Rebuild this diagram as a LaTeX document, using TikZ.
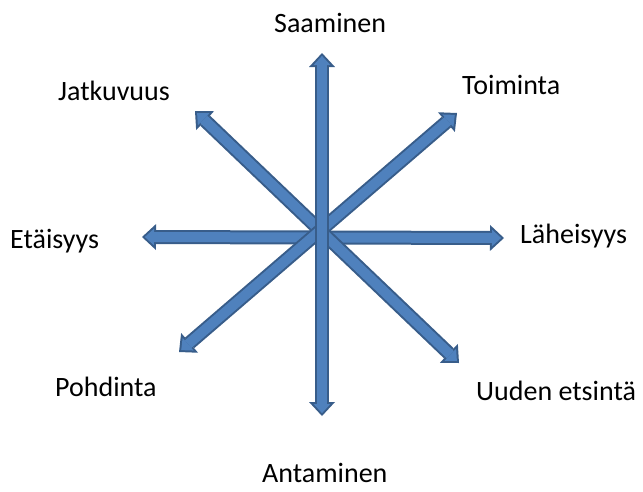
\documentclass[tikz,border=0pt]{standalone}
\usepackage{fontspec}
\setmainfont{Carlito}
\usepackage{tikz}
\usetikzlibrary{arrows.meta,calc}
\usepackage{xcolor}
\definecolor{edgeblue}{HTML}{385D8A}
\definecolor{fillblue}{HTML}{4F81BD}

\tikzset{
  lbl/.style={inner sep=0pt,anchor=base west,font=\fontsize{28}{32}\selectfont},
  arrowedge/.style={edgeblue,line width=14pt,
    {Triangle[length=14pt,width=26pt,line width=0pt]}-{Triangle[length=14pt,width=26pt,line width=0pt]}},
  arrowcore/.style={fillblue,line width=10pt,shorten <=2.9pt,shorten >=2.9pt,
    {Triangle[length=9.1pt,width=16.8pt,line width=0pt]}-{Triangle[length=9.1pt,width=16.8pt,line width=0pt]}}
}

\begin{document}
\begin{tikzpicture}[x=1pt,y=-1pt]
  \useasboundingbox (0,0) rectangle (643,491);
  % arrow ends
  \coordinate (top) at (322,53);
  \coordinate (bot) at (322,416);
  \coordinate (lft) at (142,237);
  \coordinate (rgt) at (504,238);
  \coordinate (nw) at (195,111);
  \coordinate (se) at (459,363);
  \coordinate (ne) at (457,113);
  \coordinate (sw) at (179,352);
  % labels
  \node[lbl] (saaminen) at (274,32) {Saaminen};
  \node[lbl] (jatkuvuus) at (58,100) {Jatkuvuus};
  \node[lbl] (toiminta) at (462,94) {Toiminta};
  \node[lbl] (etaisyys) at (10,248) {Etäisyys};
  \node[lbl] (laheisyys) at (520,243) {Läheisyys};
  \node[lbl] (pohdinta) at (55,396) {Pohdinta};
  \node[lbl] (uuden) at (476,400) {Uuden etsintä};
  \node[lbl] (antaminen) at (262,482) {Antaminen};
  % the four double arrows
  \foreach \a/\b in {lft/rgt,nw/se,sw/ne,bot/top} {
    \draw[arrowedge] (\a) -- (\b);
    \draw[arrowcore] (\a) -- (\b);
  }
\end{tikzpicture}
\end{document}
